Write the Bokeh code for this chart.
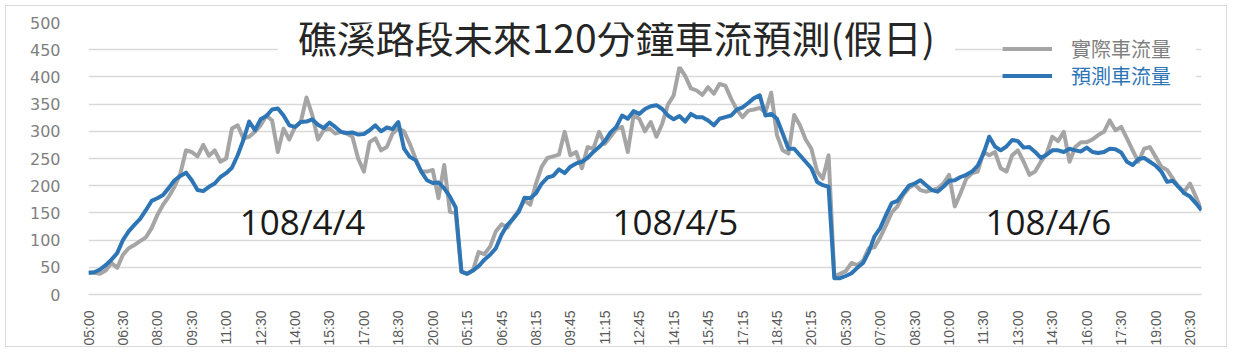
import numpy as np
from bokeh.plotting import figure
from bokeh.models import Range1d, FixedTicker, Label, Legend, LegendItem, ColumnDataSource
from bokeh.core.properties import value
from bokeh.embed import file_html
from bokeh.resources import INLINE

# ---------------- data ----------------
title_text = "礁溪路段未來120分鐘車流預測(假日)"
series_names = ["實際車流量", "預測車流量"]
date_labels = ["108/4/4", "108/4/5", "108/4/6"]
points_per_day = 65  # 05:00 .. 21:00 every 15 minutes

tick_labels = [
    "05:00", "06:30", "08:00", "09:30", "11:00", "12:30", "14:00", "15:30", "17:00", "18:30", "20:00",
    "05:15", "06:45", "08:15", "09:45", "11:15", "12:45", "14:15", "15:45", "17:15", "18:45", "20:15",
    "05:30", "07:00", "08:30", "10:00", "11:30", "13:00", "14:30", "16:00", "17:30", "19:00", "20:30",
]
tick_step = 6

actual_0404 = [40, 40, 38, 44, 58, 49, 73, 85, 91, 98,
               105, 122, 146, 165, 180, 198, 222, 265, 262, 254,
               275, 255, 265, 244, 250, 305, 311, 287, 290, 299,
               311, 329, 320, 262, 305, 285, 308, 317, 362, 330,
               285, 302, 305, 296, 299, 296, 290, 250, 226, 280,
               287, 265, 271, 296, 305, 300, 277, 250, 226, 226,
               229, 177, 238, 152, 150]
actual_0405 = [42, 38, 44, 78, 74, 88, 116, 129, 123, 140,
               155, 173, 165, 204, 235, 251, 254, 257, 299, 256,
               262, 232, 271, 268, 299, 277, 290, 304, 308, 262,
               329, 323, 300, 317, 290, 314, 349, 366, 418, 402,
               379, 375, 367, 381, 369, 387, 384, 360, 340, 326,
               338, 340, 343, 335, 371, 293, 265, 259, 330, 311,
               285, 268, 226, 213, 256]
actual_0406 = [34, 38, 43, 58, 54, 62, 85, 87, 105, 127,
               151, 162, 183, 196, 202, 192, 189, 192, 195, 204,
               220, 162, 186, 213, 223, 226, 262, 256, 262, 232,
               226, 256, 265, 244, 220, 226, 244, 259, 290, 282,
               299, 244, 271, 280, 280, 285, 293, 299, 320, 302,
               308, 287, 265, 244, 268, 271, 253, 235, 229, 213,
               198, 189, 204, 180, 155]

pred_0404 = [40, 41, 46, 54, 64, 76, 100, 116, 128, 139,
             155, 172, 177, 183, 196, 210, 218, 224, 210, 192,
             190, 198, 204, 216, 223, 233, 256, 284, 318, 302,
             322, 328, 340, 342, 329, 311, 308, 317, 318, 322,
             312, 306, 316, 308, 299, 297, 298, 294, 295, 302,
             311, 300, 307, 304, 317, 268, 253, 247, 226, 210,
             205, 206, 195, 180, 160]
pred_0405 = [42, 38, 44, 52, 64, 73, 85, 110, 128, 139,
             152, 178, 177, 186, 204, 215, 218, 230, 223, 235,
             241, 244, 251, 262, 271, 282, 298, 308, 329, 323,
             337, 332, 341, 346, 348, 341, 329, 322, 328, 318,
             332, 326, 326, 320, 311, 323, 326, 329, 340, 344,
             352, 361, 366, 329, 332, 323, 296, 268, 268, 256,
             244, 232, 207, 201, 198]
pred_0406 = [30, 30, 34, 39, 49, 58, 78, 107, 122, 146,
             168, 172, 186, 200, 204, 210, 201, 192, 189, 198,
             209, 210, 216, 220, 226, 237, 259, 290, 272, 265,
             272, 284, 282, 270, 271, 262, 251, 257, 265, 265,
             262, 268, 265, 263, 270, 262, 260, 262, 268, 267,
             261, 244, 238, 249, 251, 244, 237, 226, 207, 209,
             198, 186, 180, 168, 155]

actual = actual_0404 + actual_0405 + actual_0406
predicted = pred_0404 + pred_0405 + pred_0406
idx = list(range(len(actual)))
source = ColumnDataSource(data=dict(idx=idx, actual=actual, predicted=predicted))

# ---------------- figure ----------------
GRAY = "#A5A5A5"
BLUE = "#2E75B6"
GRID = "#D9D9D9"

p = figure(width=1222, height=342,
           x_range=Range1d(0, len(actual) - 1), y_range=Range1d(0, 500),
           output_backend="svg", toolbar_location=None,
           min_border_left=82, min_border_right=27, min_border_top=16, min_border_bottom=53)
p.styles = {"border": "1px solid #D9D9D9", "margin-left": "5px", "margin-top": "5px"}
p.outline_line_color = None
p.background_fill_color = "white"
p.border_fill_color = "white"

# axes
tick_pos = [i * tick_step for i in range(len(tick_labels))]
p.xaxis.ticker = FixedTicker(ticks=tick_pos)
p.xaxis.major_label_overrides = {pos: lab for pos, lab in zip(tick_pos, tick_labels)}
p.xaxis.major_label_orientation = np.pi / 2
p.xaxis.axis_line_color = GRID
p.xaxis.axis_line_width = 1.5
p.xaxis.major_tick_line_color = None
p.xaxis.minor_tick_line_color = None
p.xaxis.major_label_standoff = 10
p.xaxis.major_label_text_font = "Liberation Sans"
p.xaxis.major_label_text_font_size = "14px"
p.xaxis.major_label_text_color = "#595959"
p.xgrid.visible = False

p.yaxis.ticker = FixedTicker(ticks=list(range(0, 501, 50)))
p.yaxis.axis_line_color = None
p.yaxis.major_tick_line_color = None
p.yaxis.minor_tick_line_color = None
p.yaxis.major_label_standoff = 22
p.yaxis.major_label_text_font = "DejaVu Sans"
p.yaxis.major_label_text_font_size = "16px"
p.yaxis.major_label_text_color = "#7F7F7F"
p.ygrid.grid_line_color = GRID
p.ygrid.grid_line_width = 1.5

# lines
r_act = p.line("idx", "actual", source=source, line_color=GRAY, line_width=4, line_join="round")
r_pred = p.line("idx", "predicted", source=source, line_color=BLUE, line_width=4, line_join="round")

# title (drawn inside plot area with white box)
title = Label(x=92, y=476, text=title_text, text_align="center", text_baseline="middle",
              text_font="Noto Sans CJK TC", text_font_size="39px", text_color="#262626",
              background_fill_color="white", background_fill_alpha=1.0,
              padding=dict(left=20, right=20, top=3, bottom=3))
p.add_layout(title)

# day labels
day_src = ColumnDataSource(data=dict(
    x=[d * points_per_day + 37.3 for d in range(len(date_labels))],
    y=[134] * len(date_labels),
    t=date_labels))
p.text("x", "y", text="t", source=day_src, text_align="center", text_baseline="middle",
       text_font=value("Open Sans"), text_font_size="35px", text_color="#1A1A1A")

# legends (two, to colour the labels individually)
common = dict(glyph_width=50, glyph_height=27, label_height=27, label_width=125,
              label_standoff=19, padding=0, margin=0, spacing=0,
              border_line_color=None, background_fill_color="white", background_fill_alpha=1.0,
              label_text_font="Noto Sans CJK TC", label_text_font_size="20px")
leg_a = Legend(items=[LegendItem(label=series_names[0], renderers=[r_act])],
               location=(914, 231), label_text_color="#7F7F7F", **common)
leg_p = Legend(items=[LegendItem(label=series_names[1], renderers=[r_pred])],
               location=(914, 204), label_text_color=BLUE, **common)
p.add_layout(leg_a)
p.add_layout(leg_p)

open("out.html", "w").write(file_html(p, INLINE))
